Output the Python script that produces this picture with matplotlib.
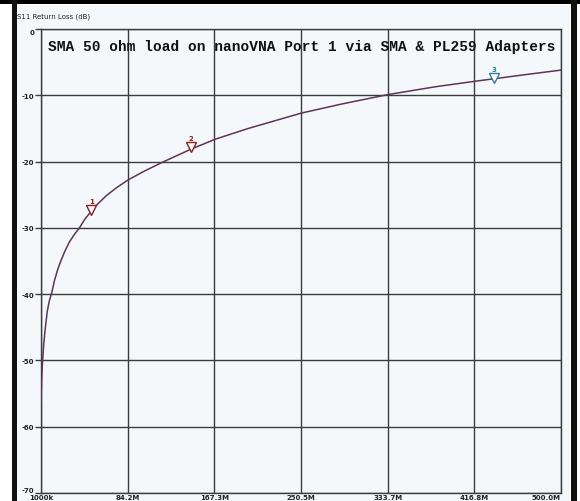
import matplotlib
matplotlib.use("Agg")
import matplotlib.pyplot as plt
from matplotlib.patches import Rectangle

# trace: frequency (MHz) vs S11 return loss (dB)
freq_mhz = [1.0, 1.5, 2.0, 2.6, 3.5, 5.0, 7.0, 9.0, 11.3, 14.0, 17.0, 20.0,
            24.0, 28.0, 33.0, 37.9, 43.0, 49.2, 56.0, 64.0, 73.0, 84.2, 100.0,
            118.9, 145.3, 168.7, 200.0, 250.5, 290.0, 333.7, 380.0, 416.8,
            436.0, 470.0, 500.0]
s11_db = [-56.5, -53.5, -51.5, -50.0, -47.8, -45.3, -42.6, -41.0, -39.8, -37.9,
          -36.3, -35.0, -33.5, -32.2, -31.0, -30.0, -28.7, -27.5, -26.3, -25.1,
          -24.0, -22.8, -21.45, -20.0, -18.1, -16.6, -15.0, -12.7, -11.3, -9.9,
          -8.7, -7.9, -7.5, -6.8, -6.2]

marker_labels = ["1", "2", "3"]
marker_freq = [49.2, 145.3, 436.0]
marker_db = [-27.3, -17.8, -7.4]
marker_colors = ["#8b1c1c", "#8b1c1c", "#2f7f95"]

x_ticks = [1.0, 84.2, 167.3, 250.5, 333.7, 416.8, 500.0]
x_tick_labels = ["1000k", "84.2M", "167.3M", "250.5M", "333.7M", "416.8M", "500.0M"]
y_ticks = [0, -10, -20, -30, -40, -50, -60, -70]

title = "SMA 50 ohm load on nanoVNA Port 1 via SMA & PL259 Adapters"

fig = plt.figure(figsize=(5.8, 5.02), dpi=100)
fig.patch.set_facecolor("white")

W, H = 580.0, 502.0
# panel background and dark frame pieces from the screenshot
fig.patches.append(Rectangle((17 / W, 0), (570 - 17) / W, (H - 6) / H,
                             transform=fig.transFigure, facecolor="#f4f8fb",
                             edgecolor="none", zorder=0))
fig.patches.append(Rectangle((0, (H - 5) / H), 1, 5 / H, transform=fig.transFigure,
                             facecolor="black", edgecolor="none", zorder=1))
fig.patches.append(Rectangle((12 / W, 0), 5 / W, 1, transform=fig.transFigure,
                             facecolor="#111111", edgecolor="none", zorder=1))
fig.patches.append(Rectangle((571 / W, 0), 6 / W, 1, transform=fig.transFigure,
                             facecolor="#111111", edgecolor="none", zorder=1))

ax = fig.add_axes([41 / W, (H - 494) / H, 520 / W, 464 / H])
ax.set_zorder(3)
ax.set_facecolor("#f4f8fb")
ax.set_xlim(1.0, 500.0)
ax.set_ylim(-70, 0)

for s in ax.spines.values():
    s.set_color("#3c3c3c")
    s.set_linewidth(1.0)

ax.set_xticks(x_ticks)
ax.set_xticklabels(x_tick_labels)
ax.set_yticks(y_ticks)
ax.set_yticklabels([str(v) for v in y_ticks])
ax.grid(True, color="#3c3c3c", linewidth=1.0)
ax.tick_params(axis="y", length=4, width=1.0, color="#3c3c3c",
               labelsize=5, pad=1)
ax.tick_params(axis="x", length=0, labelsize=5, pad=0.5)
for lbl in ax.get_xticklabels() + ax.get_yticklabels():
    lbl.set_fontweight("bold")
    lbl.set_color("#222222")
ax.get_xticklabels()[-1].set_horizontalalignment("right")
ax.get_yticklabels()[-1].set_verticalalignment("bottom")
ax.get_yticklabels()[0].set_verticalalignment("top")

ax.plot(freq_mhz, s11_db, color="#5e3553", linewidth=1.1, zorder=3)

for lab, f, db, c in zip(marker_labels, marker_freq, marker_db, marker_colors):
    ax.plot([f], [db], marker="v", markersize=6.5, markerfacecolor="white",
            markeredgecolor=c, markeredgewidth=1.0, linestyle="none", zorder=4)
    ax.annotate(lab, (f, db), xytext=(0, 4), textcoords="offset points",
                ha="center", va="bottom", fontsize=5, fontweight="bold",
                color=c, zorder=5)

ax.text(0.501, 0.964, title, transform=ax.transAxes, ha="center", va="center",
        fontsize=10.45, fontweight="bold", family="Liberation Mono",
        color="#111111", zorder=6)

fig.text(17 / W, 1 - 17 / H, "S11 Return Loss (dB)", ha="left", va="center",
         fontsize=5, color="#222222")

fig.savefig("out.png", dpi=100)
